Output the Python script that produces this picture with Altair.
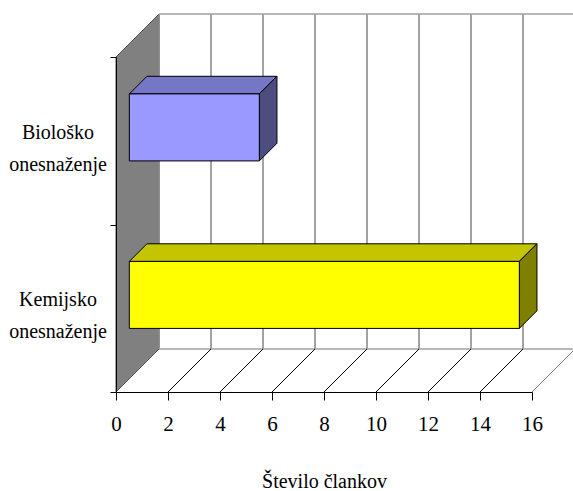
import altair as alt
import pandas as pd

# Chart data
categories = ["Kemijsko\nonesnaženje", "Biološko\nonesnaženje"]
counts = [15, 5]
x_ticks = [0, 2, 4, 6, 8, 10, 12, 14, 16]
front_colors = ["#FFFF00", "#9999FF"]
top_colors = ["#C4C400", "#7676C6"]
side_colors = ["#808000", "#4D4D80"]

# Plot geometry (front frame of the 3D box)
W, H = 416, 335
X_MAX = 16
N_CAT = len(categories)
PX_X = W / X_MAX
PX_Y = H / N_CAT
DEPTH = 43                      # depth of the box in pixels
DX = DEPTH / PX_X               # depth expressed in x units
DY = DEPTH / PX_Y               # depth expressed in y units
BAR_FRONT = 0.31                # bar front face, as fraction of depth
BAR_BACK = 0.72                 # bar back face, as fraction of depth
BAR_HALF = 33.5 / PX_Y          # half bar thickness in y units

FONT = "Liberation Serif"
xs = alt.Scale(domain=[0, X_MAX], nice=False, zero=False)
ys = alt.Scale(domain=[0, N_CAT], nice=False, zero=False)

# Left side wall
wall_df = pd.DataFrame({"x": [0, DX], "y": [0, DY], "y2": [N_CAT, N_CAT + DY]})
side_wall = alt.Chart(wall_df).mark_area(
    fill="#808080", stroke="#505050", strokeWidth=1
).encode(
    x=alt.X("x:Q", scale=xs),
    y=alt.Y("y:Q", scale=ys),
    y2="y2:Q",
)

# Back wall gridlines and edges
grid_df = pd.DataFrame({
    "x": [k + DX for k in x_ticks],
    "y": [DY] * len(x_ticks),
    "y2": [N_CAT + DY] * len(x_ticks),
})
back_grid = alt.Chart(grid_df).mark_rule(color="#8C8C8C", strokeWidth=1.6).encode(
    x=alt.X("x:Q", scale=xs),
    y=alt.Y("y:Q", scale=ys),
    y2="y2:Q",
)

edges_df = pd.DataFrame({
    "x": [DX, DX],
    "x2": [X_MAX + DX, X_MAX + DX],
    "y": [N_CAT + DY, DY],
})
back_edges = alt.Chart(edges_df).mark_rule(color="#A0A0A0", strokeWidth=1.6).encode(
    x=alt.X("x:Q", scale=xs),
    x2="x2:Q",
    y=alt.Y("y:Q", scale=ys),
)

# Floor diagonals
floor_df = pd.DataFrame({
    "x": x_ticks,
    "x2": [k + DX for k in x_ticks],
    "y": [0] * len(x_ticks),
    "y2": [DY] * len(x_ticks),
    "c": ["#505050"] + ["#000000"] * (len(x_ticks) - 2) + ["#808080"],
})
floor = alt.Chart(floor_df).mark_rule(strokeWidth=1).encode(
    x=alt.X("x:Q", scale=xs),
    x2="x2:Q",
    y=alt.Y("y:Q", scale=ys),
    y2="y2:Q",
    color=alt.Color("c:N", scale=None),
)

# Bars: front faces, top faces and right faces
dd = BAR_BACK - BAR_FRONT
front_rows, top_rows, right_rows = [], [], []
for i, (cat, v) in enumerate(zip(categories, counts)):
    c = i + 0.5
    x0 = BAR_FRONT * DX
    x1 = v + BAR_FRONT * DX
    yb = c - BAR_HALF + BAR_FRONT * DY
    yt = c + BAR_HALF + BAR_FRONT * DY
    front_rows.append({"x": x0, "x2": x1, "y": yb, "y2": yt, "fill": front_colors[i]})
    top_rows += [
        {"id": i, "y": yt, "x": x0, "x2": x1, "fill": top_colors[i]},
        {"id": i, "y": yt + dd * DY, "x": x0 + dd * DX, "x2": x1 + dd * DX, "fill": top_colors[i]},
    ]
    right_rows += [
        {"id": i, "x": x1, "y": yb, "y2": yt, "fill": side_colors[i]},
        {"id": i, "x": x1 + dd * DX, "y": yb + dd * DY, "y2": yt + dd * DY, "fill": side_colors[i]},
    ]

bar_front = alt.Chart(pd.DataFrame(front_rows)).mark_rect(
    stroke="black", strokeWidth=1
).encode(
    x=alt.X("x:Q", scale=xs),
    x2="x2:Q",
    y=alt.Y("y:Q", scale=ys),
    y2="y2:Q",
    fill=alt.Fill("fill:N", scale=None),
)

bar_top = alt.Chart(pd.DataFrame(top_rows)).mark_area(
    orient="horizontal", stroke="black", strokeWidth=1
).encode(
    y=alt.Y("y:Q", scale=ys),
    x=alt.X("x:Q", scale=xs),
    x2="x2:Q",
    detail="id:N",
    fill=alt.Fill("fill:N", scale=None),
)

bar_right = alt.Chart(pd.DataFrame(right_rows)).mark_area(
    stroke="black", strokeWidth=1
).encode(
    x=alt.X("x:Q", scale=xs),
    y=alt.Y("y:Q", scale=ys),
    y2="y2:Q",
    detail="id:N",
    fill=alt.Fill("fill:N", scale=None),
)

# Axes
axes = alt.Chart(pd.DataFrame({"x": [0], "y": [0]})).mark_point(opacity=0).encode(
    x=alt.X("x:Q", scale=xs, axis=alt.Axis(
        values=x_ticks, format="d", grid=False, tickSize=8, tickColor="black",
        domainColor="black", labelFont=FONT, labelFontSize=21, labelColor="black",
        labelFlush=False, labelOverlap=False,
        labelPadding=13, title="Število člankov", titleFont=FONT, titleFontSize=20,
        titleFontWeight="normal", titleColor="black", titlePadding=37, zindex=2,
    )),
    y=alt.Y("y:Q", scale=ys, axis=alt.Axis(
        values=[0, 1, 2], labels=False, grid=False, tickSize=6, tickColor="black",
        domainColor="black", title=None, zindex=2,
    )),
)

# Category labels
label_df = pd.DataFrame({"cat": categories, "pos": [i + 0.5 for i in range(N_CAT)]})
labels = alt.Chart(label_df).mark_text(
    font=FONT, fontSize=20, lineBreak="\n", lineHeight=32,
    align="center", baseline="middle", color="black", dy=-8,
).encode(
    x=alt.value(-58),
    y=alt.Y("pos:Q", scale=ys),
    text="cat:N",
)

chart = alt.layer(
    side_wall, back_grid, back_edges, floor, bar_top, bar_right, bar_front, axes, labels
).properties(
    width=W, height=H,
    padding={"left": 116, "top": 57, "right": 41, "bottom": 99},
    autosize="none",
    background="white",
).configure_view(stroke=None)

chart.save("out.html", embed_options={"renderer": "svg", "actions": False})
